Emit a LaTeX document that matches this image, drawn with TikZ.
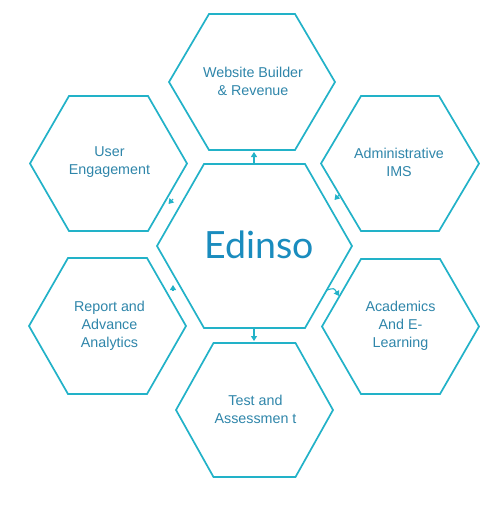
\documentclass[tikz,border=0pt]{standalone}
\usepackage{fontspec}
\setmainfont{Liberation Sans}
\newfontfamily\logofont{Lato}
\usetikzlibrary{calc,arrows.meta}
\definecolor{hexcol}{HTML}{22B2C8}
\definecolor{txtcol}{HTML}{2F86AA}
\definecolor{logocol}{HTML}{1A8CBE}
\tikzset{
  hexline/.style={draw=hexcol,line width=1.7pt,line join=miter},
  lbl/.style={text=txtcol,font=\fontsize{14.3}{18}\selectfont,align=center,inner sep=0pt},
  logo/.style={text=logocol,font=\logofont\fontsize{37.5}{40}\selectfont,inner sep=0pt},
  conn/.style={draw=hexcol,line width=1.1pt,-{Triangle[width=6pt,length=5pt]}}
}
\newcommand\myhex[6]{%
  \coordinate (#1) at (#2,#3);
  \draw[hexline] ($(#1)+(-#6,-#5)$) -- ($(#1)+(#6,-#5)$) -- ($(#1)+(#4,0)$)
    -- ($(#1)+(#6,#5)$) -- ($(#1)+(-#6,#5)$) -- ($(#1)+(-#4,0)$) -- cycle;}
\begin{document}
\begin{tikzpicture}[x=1pt,y=-1pt]
\useasboundingbox[fill=white] (0,0) rectangle (490,509);
% hexagons
\myhex{ctr}{254.5}{246}{97.5}{82}{50.5}
\myhex{web}{252}{82}{83}{68}{43}
\myhex{adm}{400}{163.5}{79}{67.5}{39}
\myhex{aca}{400.5}{326.5}{78.5}{67.5}{39.5}
\myhex{tst}{254.5}{410}{78.5}{67}{41}
\myhex{rep}{107.5}{326}{78.5}{68}{39.5}
\myhex{usr}{108.5}{163.5}{78.5}{67.5}{39.5}
% labels
\node[logo] (tctr) at ($(ctr)+(5,-1)$) {Edinso};
\node[lbl] (tweb) at ($(web)+(1,-1)$) {Website Builder\\\& Revenue};
\node[lbl] (tadm) at ($(adm)+(-1,-1)$) {Administrative\\IMS};
\node[lbl] (taca) at ($(aca)+(0,-1)$) {Academics\\And E-\\Learning};
\node[lbl] (ttst) at ($(tst)+(1,-1)$) {Test and\\Assessmen t};
\node[lbl] (trep) at ($(rep)+(2,0)$) {Report and\\Advance\\Analytics};
\node[lbl] (tusr) at ($(usr)+(1,-1)$) {User\\Engagement};
% connectors
\coordinate (c1a) at (254,164); \coordinate (c1b) at (254,152);
\coordinate (c2a) at (254,328); \coordinate (c2b) at (254,341);
\coordinate (c3a) at (339,195); \coordinate (c3b) at (334.5,200);
\coordinate (c4a) at (173,199); \coordinate (c4b) at (168.5,204);
\coordinate (c5a) at (173,291); \coordinate (c5b) at (173,285);
\coordinate (c6a) at (327,290); \coordinate (c6b) at (339,296);
\draw[conn] (c1a) -- (c1b);
\draw[conn] (c2a) -- (c2b);
\draw[conn] (c3a) -- (c3b);
\draw[conn] (c4a) -- (c4b);
\draw[conn] (c5a) -- (c5b);
\draw[conn] (c6a) .. controls (334,288) .. (c6b);
\end{tikzpicture}
\end{document}
